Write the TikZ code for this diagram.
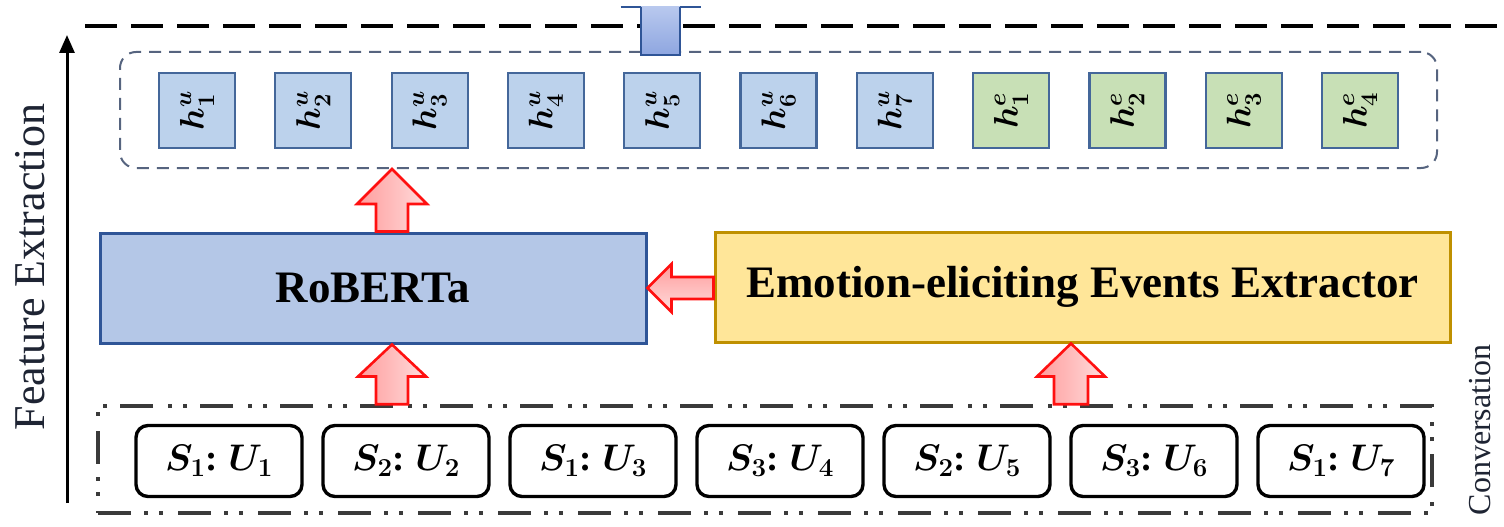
\RequirePackage{fix-cm}
\documentclass[tikz,border=0pt]{standalone}
\usepackage{fontspec}
\setmainfont{Liberation Serif}
\usepackage{graphicx}
\usetikzlibrary{arrows.meta,calc}

\definecolor{hblue}{HTML}{BCD2EC}
\definecolor{hgreen}{HTML}{C8E0B6}
\definecolor{hedge}{HTML}{44679A}
\definecolor{robfill}{HTML}{B4C7E7}
\definecolor{robedge}{HTML}{2F5597}
\definecolor{eeefill}{HTML}{FFE699}
\definecolor{eeeedge}{HTML}{BF9000}
\definecolor{contedge}{HTML}{56647F}
\definecolor{convedge}{HTML}{3A3A3A}
\definecolor{arrred}{HTML}{FF1010}
\definecolor{arrfillA}{HTML}{FF9C9C}
\definecolor{arrfillB}{HTML}{FFDCDC}
\definecolor{tabtop}{HTML}{B8C8EE}
\definecolor{tabbot}{HTML}{8EA6E0}
\definecolor{labelc}{HTML}{1E2433}

\newcommand{\hlab}[2]{\rotatebox{90}{\fontsize{34}{36}\selectfont\boldmath$h^{#1}_{#2}$}}
% base, tip, shaft half width, head half width, head length
\newcommand{\upblock}[5]{%
  \draw[redarrow] let \p1=(#1), \p2=(#2) in
    (\x1-#3,\y1) -- (\x1-#3,\y2-#5) -- (\x1-#4,\y2-#5) -- (\x1,\y2)
    -- (\x1+#4,\y2-#5) -- (\x1+#3,\y2-#5) -- (\x1+#3,\y1) -- cycle;}

\tikzset{
  hbox/.style={draw=hedge, line width=2.2pt, fill=hblue, minimum width=76pt,
    minimum height=75pt, inner sep=0pt},
  ebox/.style={hbox, fill=hgreen},
  sbox/.style={draw=black, line width=3.4pt, fill=white, rounded corners=12pt,
    minimum width=166pt, minimum height=71pt, inner sep=0pt,
    font=\fontsize{37}{40}\selectfont\bfseries\boldmath},
  bigbox/.style={line width=3pt, minimum height=110pt, inner sep=0pt,
    font=\fontsize{45}{50}\selectfont\bfseries},
  redarrow/.style={draw=arrred, line width=2.6pt, line join=miter,
    left color=arrfillA, right color=arrfillB},
  redarrowh/.style={draw=arrred, line width=2.6pt, line join=miter,
    top color=arrfillA, bottom color=arrfillB},
  tabstyle/.style={draw=robedge, line width=2.4pt, top color=tabtop, bottom color=tabbot},
  sidelabel/.style={rotate=90, text=labelc, inner sep=0pt},
}

\begin{document}
\begin{tikzpicture}[x=1pt, y=-1pt]
\useasboundingbox (0,0) rectangle (1504,527);

% top dashed boundary
\coordinate (dl) at (85,26);
\coordinate (dr) at (1504,26);
\draw[line width=3.5pt, dash pattern=on 32pt off 14pt] (dl) -- (dr);

% feature extraction axis
\coordinate (fa1) at (67,503);
\coordinate (fa2) at (67,35);
\draw[line width=3pt, -{Triangle[length=18pt,width=15pt]}] (fa1) -- (fa2);
\node[sidelabel, font=\fontsize{44}{48}\selectfont] (fe) at (30,267) {Feature Extraction};
\node[sidelabel, font=\fontsize{32}{36}\selectfont] (cv) at (1480,430) {Conversation};

% hidden representations container
\node[draw=contedge, line width=2pt, dash pattern=on 12pt off 8pt, rounded corners=16pt,
  minimum width=1317pt, minimum height=116pt, inner sep=0pt] (hc) at (778.5,110) {};
\foreach \i in {1,...,7}
  \node[hbox] (hu\i) at ({197+116.3*(\i-1)},110.5) {\hlab{u}{\i}};
\foreach \i in {1,...,4}
  \node[ebox] (he\i) at ({197+116.3*(\i+6)},110.5) {\hlab{e}{\i}};

% outgoing tab (cut off at the top)
\coordinate (tabx) at (660.5,7);
\draw[tabstyle] let \p1=(tabx), \p2=(tabx |- hc.north) in
  (\x1-19.5pt,\y1) -- (\x1-19.5pt,\y2-4pt) -- (\x1+19.5pt,\y2-4pt) -- (\x1+19.5pt,\y1);
\draw[draw=robedge, line width=2.4pt] let \p1=(tabx) in
  (\x1-40pt,\y1) -- (\x1-19.5pt,\y1) (\x1+19.5pt,\y1) -- (\x1+40pt,\y1);

% encoders
\node[bigbox, draw=robedge, fill=robfill, minimum width=546pt] (rob) at (373,288) {RoBERTa};
\node[bigbox, draw=eeeedge, fill=eeefill, minimum width=735pt] (eee) at (1082.5,287)
  {Emotion-eliciting Events Extractor};

% conversation
\node[draw=convedge, line width=3.5pt,
  dash pattern=on 33pt off 13pt on 4pt off 11pt on 4pt off 15pt,
  minimum width=1334pt, minimum height=107pt, inner sep=0pt] (conv) at (765,459.5) {};
\foreach \s/\u [count=\i] in {1/1,2/2,1/3,3/4,2/5,3/6,1/7}
  \node[sbox] (s\i) at ({219+187*(\i-1)},461) {$S_{\s}$:\;$U_{\u}$};

% block arrows
\coordinate (ax1) at (392,0);
\coordinate (ax2) at (1071,0);
\upblock{ax1 |- rob.north}{ax1 |- hc.south}{16pt}{35pt}{35pt}
\upblock{ax1 |- conv.north}{ax1 |- rob.south}{16pt}{34pt}{32pt}
\upblock{ax2 |- conv.north}{ax2 |- eee.south}{17pt}{34pt}{33pt}
\draw[redarrowh] let \p1=(eee.west |- rob.east), \p2=(rob.east) in
  (\x1,\y1+11pt) -- (\x2+24pt,\y1+11pt) -- (\x2+24pt,\y1+24pt) -- (\x2,\y2)
  -- (\x2+24pt,\y1-24pt) -- (\x2+24pt,\y1-11pt) -- (\x1,\y1-11pt) -- cycle;
\end{tikzpicture}
\end{document}
